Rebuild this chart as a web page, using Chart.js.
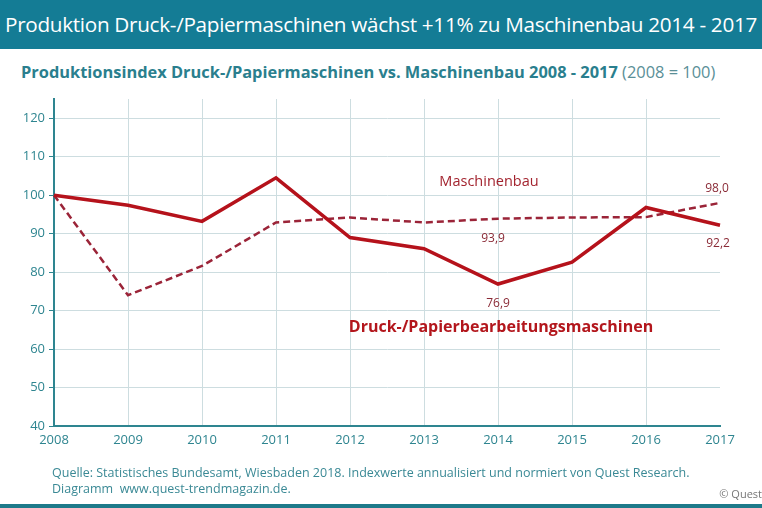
<!DOCTYPE html>
<html>
<head>
<meta charset="utf-8">
<script src="https://cdn.jsdelivr.net/npm/chart.js@4.4.1/dist/chart.umd.min.js"></script>
<style>
  html, body { margin: 0; padding: 0; background: #fff; }
  body { width: 762px; height: 508px; position: relative; overflow: hidden; font-family: "Open Sans", sans-serif; }
  #band { position: absolute; left: 0; top: 0; width: 762px; height: 49px; background: #147c95; }
  #title { position: absolute; left: 5px; top: 10px; color: #fff; font-size: 20.7px; white-space: nowrap; letter-spacing: -0.3px; }
  #subtitle { position: absolute; left: 21px; top: 60px; color: #2a7f8e; font-size: 16.4px; font-weight: bold; white-space: nowrap; }
  #subtitle span { font-weight: normal; color: #5a8f97; }
  #chart { position: absolute; left: 0; top: 0; }
  .foot { position: absolute; left: 52px; color: #3a8995; font-size: 12.5px; white-space: nowrap; }
  #copy { position: absolute; right: 0; top: 486px; color: #777; font-size: 11px; }
  #bottom { position: absolute; left: 0; top: 504px; width: 762px; height: 4px; background: #1d7a8a; }
</style>
</head>
<body>
<div id="band"></div>
<div id="title">Produktion Druck-/Papiermaschinen wächst +11% zu Maschinenbau 2014 - 2017</div>
<div id="subtitle">Produktionsindex Druck-/Papiermaschinen vs. Maschinenbau 2008 - 2017 <span>(2008 = 100)</span></div>
<canvas id="chart" width="762" height="508"></canvas>
<div class="foot" style="top:464px">Quelle: Statistisches Bundesamt, Wiesbaden 2018. Indexwerte annualisiert und normiert von Quest Research.</div>
<div class="foot" style="top:480px">Diagramm&nbsp; www.quest-trendmagazin.de.</div>
<div id="copy">© Quest</div>
<div id="bottom"></div>
<script>
const years = ["2008", "2009", "2010", "2011", "2012", "2013", "2014", "2015", "2016", "2017"];
const druckPapier = [100, 97.4, 93.2, 104.5, 89.0, 86.1, 76.9, 82.6, 96.8, 92.2];
const maschinenbau = [100, 74.0, 81.6, 92.9, 94.2, 92.9, 93.9, 94.2, 94.3, 98.0];
const yTicks = [40, 50, 60, 70, 80, 90, 100, 110, 120];

const teal = "#2e8590";
const gridColor = "#cddde0";

// labels placed next to data points: [dataset, index, dx, dy, text]
const valueLabels = [
  [1, 6, -5, 20, "93,9"],
  [0, 6, 0, 20, "76,9"],
  [1, 9, -3, -14, "98,0"],
  [0, 9, -2, 18, "92,2"]
];

const labelPlugin = {
  id: "labels",
  afterDatasetsDraw(chart) {
    const ctx = chart.ctx;
    const x = chart.scales.x, y = chart.scales.y;
    ctx.save();
    ctx.textAlign = "center";
    ctx.textBaseline = "middle";
    ctx.fillStyle = "#8a2a36";
    ctx.font = "12px 'Open Sans', sans-serif";
    for (const [ds, i, dx, dy, txt] of valueLabels) {
      const v = chart.data.datasets[ds].data[i];
      ctx.fillText(txt, x.getPixelForValue(i) + dx, y.getPixelForValue(v) + dy);
    }
    ctx.fillStyle = "#a3242f";
    ctx.font = "14.5px 'Open Sans', sans-serif";
    ctx.fillText("Maschinenbau", x.getPixelForValue(6) - 9, y.getPixelForValue(103.5));
    ctx.fillStyle = "#b3161c";
    ctx.font = "bold 16px 'Open Sans', sans-serif";
    ctx.fillText("Druck-/Papierbearbeitungsmaschinen", x.getPixelForValue(6) + 3, y.getPixelForValue(65.5));
    ctx.restore();
  }
};

new Chart(document.getElementById("chart"), {
  type: "line",
  data: {
    labels: years,
    datasets: [
      { label: "Druck-/Papierbearbeitungsmaschinen", data: druckPapier, borderColor: "#b5121b", borderWidth: 3.5, pointRadius: 0, tension: 0 },
      { label: "Maschinenbau", data: maschinenbau, borderColor: "#9b2438", borderWidth: 2.5, borderDash: [7, 4], pointRadius: 0, tension: 0 }
    ]
  },
  options: {
    responsive: false,
    animation: false,
    layout: { padding: { top: 99, left: 0, right: 42, bottom: 52 } },
    plugins: { legend: { display: false }, tooltip: { enabled: false } },
    scales: {
      x: {
        afterFit: s => { s.height = 30; },
        grid: { color: ctx => ctx.index === years.length - 1 ? "rgba(0,0,0,0)" : gridColor, drawTicks: false },
        border: { color: teal, width: 2 },
        ticks: { color: teal, font: { size: 13, family: "'Open Sans', sans-serif" }, padding: 6, maxRotation: 0 }
      },
      y: {
        min: 40, max: 125,
        afterFit: s => { s.width = 54; },
        afterBuildTicks: s => { s.ticks = yTicks.map(v => ({ value: v })); },
        grid: { color: gridColor, tickColor: teal, tickLength: 5 },
        border: { color: teal, width: 2 },
        ticks: { color: teal, font: { size: 13, family: "'Open Sans', sans-serif" }, padding: 4 }
      }
    }
  },
  plugins: [labelPlugin]
});
</script>
</body>
</html>
